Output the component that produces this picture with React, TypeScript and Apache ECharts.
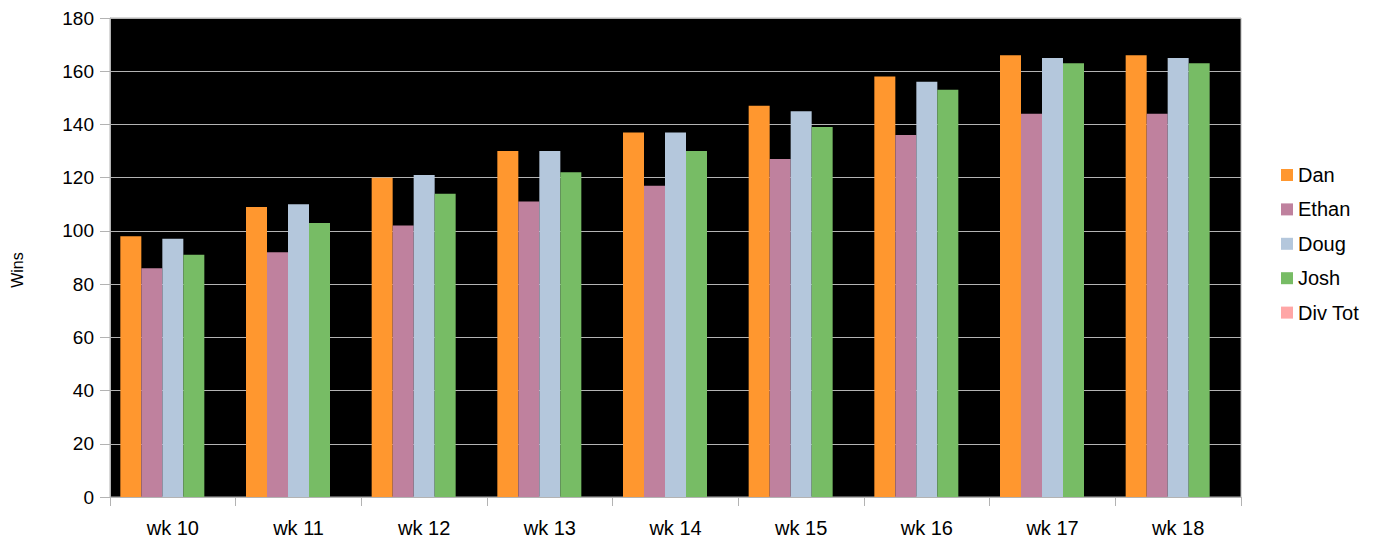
import React, { useEffect, useRef } from "react";
import * as echarts from "echarts";

const categories = ["wk 10", "wk 11", "wk 12", "wk 13", "wk 14", "wk 15", "wk 16", "wk 17", "wk 18"];
const dan = [98, 109, 120, 130, 137, 147, 158, 166, 166];
const ethan = [86, 92, 102, 111, 117, 127, 136, 144, 144];
const doug = [97, 110, 121, 130, 137, 145, 156, 165, 165];
const josh = [91, 103, 114, 122, 130, 139, 153, 163, 163];
const divTot = [0, 0, 0, 0, 0, 0, 0, 0, 0];

const seriesNames = ["Dan", "Ethan", "Doug", "Josh", "Div Tot"];
const seriesData = [dan, ethan, doug, josh, divTot];
const colors = ["#FF972F", "#BF819E", "#B4C7DC", "#77BC65", "#FFA6A6"];

const FONT = "'Liberation Sans', Arial, sans-serif";
const GRAY = "#b3b3b3";

export default function App() {
  const ref = useRef<HTMLDivElement>(null);
  useEffect(() => {
    if (!ref.current) return;
    const chart = echarts.init(ref.current, undefined, { renderer: "svg" });
    chart.setOption({
      animation: false,
      backgroundColor: "#ffffff",
      color: colors,
      textStyle: { fontFamily: FONT },
      grid: {
        left: 110,
        top: 18,
        right: 133,
        bottom: 43,
        show: true,
        backgroundColor: "#000000",
        borderColor: GRAY,
        borderWidth: 1,
      },
      legend: {
        orient: "vertical",
        left: 1276,
        top: 160,
        icon: "rect",
        itemWidth: 12,
        itemHeight: 12,
        itemGap: 14.4,
        textStyle: { fontSize: 20, color: "#000", fontFamily: FONT, lineHeight: 20 },
        data: seriesNames,
      },
      graphic: [
        {
          type: "text",
          x: 17,
          y: 270,
          rotation: Math.PI / 2,
          style: {
            text: "Wins",
            fontSize: 16,
            fontFamily: FONT,
            fill: "#000",
            textAlign: "center",
            textVerticalAlign: "middle",
          },
        },
      ],
      xAxis: {
        type: "category",
        data: categories,
        axisLine: { show: true, lineStyle: { color: GRAY } },
        axisTick: { show: true, length: 9, alignWithLabel: false, lineStyle: { color: GRAY } },
        axisLabel: { fontSize: 20, color: "#000", margin: 21, fontFamily: FONT },
        splitLine: { show: false },
      },
      yAxis: {
        type: "value",
        min: 0,
        max: 180,
        interval: 20,
        axisLine: { show: true, lineStyle: { color: GRAY } },
        axisTick: { show: true, length: 10, lineStyle: { color: GRAY } },
        axisLabel: { fontSize: 19, color: "#000", margin: 16, fontFamily: FONT },
        splitLine: { show: true, lineStyle: { color: GRAY, width: 1 } },
      },
      series: seriesNames.map((name, i) => ({
        name,
        type: "bar",
        data: seriesData[i],
        barWidth: 21,
        barGap: "0%",
        itemStyle: { color: colors[i] },
      })),
    });
    return () => chart.dispose();
  }, []);
  return (
    <div
      ref={ref}
      style={{ position: "fixed", left: 0, top: 0, width: 1374, height: 540, background: "#fff" }}
    />
  );
}
